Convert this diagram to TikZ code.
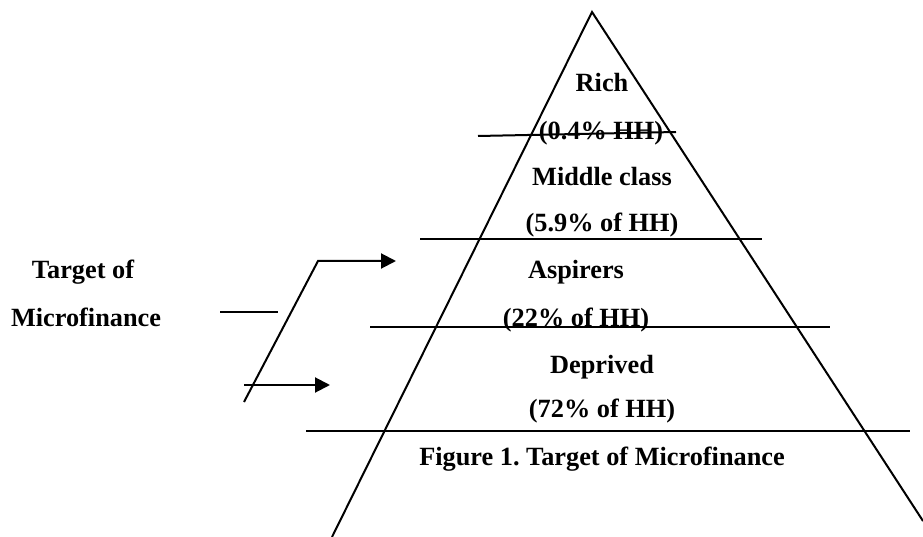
\documentclass[tikz,border=0pt]{standalone}
\usepackage{fontspec}
\setmainfont{Liberation Serif}
\usetikzlibrary{arrows.meta}
\frenchspacing
\tikzset{
  lbl/.style={anchor=base, inner sep=0pt, font=\bfseries\fontsize{26.3}{30}\selectfont},
  ln/.style={line width=2pt},
  arr/.style={line width=2pt, -{Triangle[length=15pt,width=15pt]}}
}
\begin{document}
\begin{tikzpicture}[x=1pt,y=-1pt]
\useasboundingbox (0,0) rectangle (923,537);
% pyramid
\coordinate (apex) at (592,12);
\coordinate (bl) at (332,537);
\coordinate (br) at (923,521);
\draw[ln] (bl) -- (apex) -- (br);
% horizontal lines
\coordinate (r1) at (478,136); \coordinate (r2) at (676,132);
\coordinate (m1) at (420,239); \coordinate (m2) at (762,239);
\coordinate (a1) at (370,327); \coordinate (a2) at (830,327);
\coordinate (d1) at (306,431); \coordinate (d2) at (910,431);
\draw[ln] (r1) -- (r2);
\draw[ln] (m1) -- (m2);
\draw[ln] (a1) -- (a2);
\draw[ln] (d1) -- (d2);
% labels
\node[lbl] (rich) at (602,92) {Rich};
\node[lbl] (richp) at (601,140) {(0.4\% HH)};
\node[lbl] (mid) at (602,186) {Middle class};
\node[lbl] (midp) at (602,232) {(5.9\% of HH)};
\node[lbl] (asp) at (576,279) {Aspirers};
\node[lbl] (aspp) at (576,326) {(22\% of HH)};
\node[lbl] (dep) at (602,373) {Deprived};
\node[lbl] (depp) at (602,417) {(72\% of HH)};
\node[lbl] (cap) at (602,465) {Figure 1. Target of Microfinance};
\node[lbl] (tgt) at (83,279) {Target of};
\node[lbl] (mf) at (86,326) {Microfinance};
% left marks and arrows
\coordinate (s1) at (220,312); \coordinate (s2) at (278,312);
\draw[ln] (s1) -- (s2);
\coordinate (b0) at (244,402); \coordinate (b1) at (318,261); \coordinate (b2) at (396,261);
\draw[arr] (b0) -- (b1) -- (b2);
\coordinate (c0) at (244,385); \coordinate (c1) at (330,385);
\draw[arr] (c0) -- (c1);
\end{tikzpicture}
\end{document}
